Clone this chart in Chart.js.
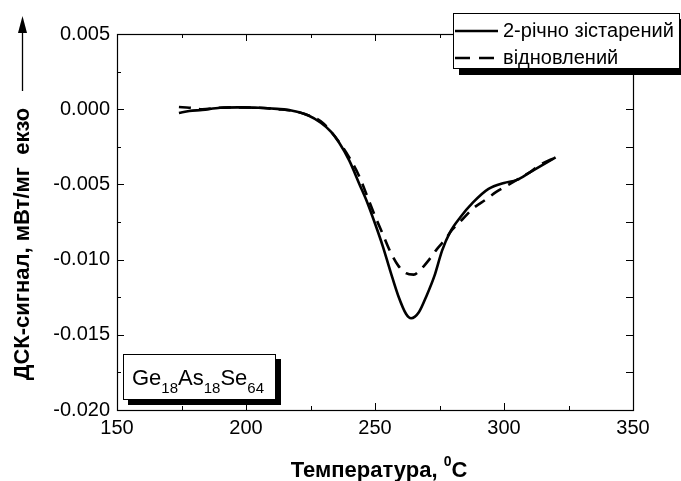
<!DOCTYPE html>
<html><head><meta charset="utf-8">
<script src="https://cdn.jsdelivr.net/npm/chart.js@4.4.1/dist/chart.umd.min.js"></script>
<style>html,body{margin:0;padding:0;background:#fff;}canvas{display:block;}</style>
</head><body>
<canvas id="c" width="681" height="481"></canvas>
<script>
// ---- data ----
const tempAged = [174,178,183,190,197,205,212,218,224,229,233,236,240,244,247,250,253,256,259,262,264,267,270,273,276,279,283,288,294,300,305,310,315,320];
const dscAged  = [-0.00025,-0.00012,-0.00005,0.0001,0.00012,0.0001,0.00002,-0.0001,-0.0004,-0.0009,-0.0015,-0.0022,-0.0034,-0.0050,-0.0062,-0.0076,-0.0091,-0.0108,-0.0124,-0.0136,-0.0139,-0.0135,-0.0124,-0.0111,-0.0094,-0.0082,-0.0072,-0.0062,-0.0053,-0.0049,-0.0047,-0.0042,-0.0037,-0.0032];
const tempRestored = [174,178,183,190,197,205,212,218,224,229,233,237,240,244,247,250,253,256,259,262,265,268,271,274,277,280,284,288,293,297,302,306,310,314,320];
const dscRestored  = [0.00015,0.0001,0.0,0.0001,0.00012,0.0001,0.0,-0.0001,-0.0004,-0.0008,-0.0015,-0.0024,-0.0032,-0.0045,-0.0058,-0.0071,-0.0083,-0.0095,-0.0104,-0.0109,-0.0110,-0.0106,-0.0100,-0.0093,-0.0087,-0.0080,-0.0073,-0.0066,-0.0060,-0.0055,-0.0050,-0.0046,-0.0042,-0.0037,-0.0032];
const seriesNames = ['2-річно зістарений','відновлений'];
const xTicks = [150,200,250,300,350];
const yTicks = [0.005,0.000,-0.005,-0.010,-0.015,-0.020];
const xTitle = ['Температура, ','0','C'];
const yTitle = 'ДСК-сигнал, мВт/мг  екзо';
const sampleParts = [['Ge','18'],['As','18'],['Se','64']];

const FONT = "Arial, 'Liberation Sans', sans-serif";

const decor = {
  id: 'decor',
  afterDraw(chart) {
    const ctx = chart.ctx, xs = chart.scales.x, ys = chart.scales.y, a = chart.chartArea;
    ctx.save();
    ctx.strokeStyle = '#000'; ctx.fillStyle = '#000'; ctx.lineWidth = 1.2;
    // frame
    ctx.strokeRect(a.left + 0.5, a.top + 0.5, a.right - a.left, a.bottom - a.top);
    // inward ticks
    ctx.lineWidth = 1;
    ctx.beginPath();
    for (let i = 0; i < xTicks.length; i++) {
      const v = xTicks[i];
      const px = Math.round(xs.getPixelForValue(v)) + 0.5;
      ctx.moveTo(px, a.bottom); ctx.lineTo(px, a.bottom - 7);
      ctx.moveTo(px, a.top); ctx.lineTo(px, a.top + 7);
      if (i < xTicks.length - 1) {
        const m = Math.round(xs.getPixelForValue((v + xTicks[i + 1]) / 2)) + 0.5;
        ctx.moveTo(m, a.bottom); ctx.lineTo(m, a.bottom - 4);
        ctx.moveTo(m, a.top); ctx.lineTo(m, a.top + 4);
      }
    }
    for (let i = 0; i < yTicks.length; i++) {
      const v = yTicks[i];
      const py = Math.round(ys.getPixelForValue(v)) + 0.5;
      ctx.moveTo(a.left, py); ctx.lineTo(a.left + 7, py);
      ctx.moveTo(a.right, py); ctx.lineTo(a.right - 7, py);
      if (i < yTicks.length - 1) {
        const m = Math.round(ys.getPixelForValue((v + yTicks[i + 1]) / 2)) + 0.5;
        ctx.moveTo(a.left, m); ctx.lineTo(a.left + 4, m);
        ctx.moveTo(a.right, m); ctx.lineTo(a.right - 7, m);
      }
    }
    ctx.stroke();

    // x title with superscript
    ctx.textBaseline = 'alphabetic';
    ctx.textAlign = 'left';
    const fb = 'bold 22px ' + FONT, fs = 'bold 14px ' + FONT;
    ctx.font = fb; const w1 = ctx.measureText(xTitle[0]).width, w3 = ctx.measureText(xTitle[2]).width;
    ctx.font = fs; const w2 = ctx.measureText(xTitle[1]).width;
    let sx = (a.left + a.right) / 2 + 4 - (w1 + w2 + w3) / 2;
    ctx.font = fb; ctx.fillText(xTitle[0], sx, 477);
    ctx.font = fs; ctx.fillText(xTitle[1], sx + w1, 466);
    ctx.font = fb; ctx.fillText(xTitle[2], sx + w1 + w2, 477);

    // y title
    ctx.save();
    ctx.translate(23, 244);
    ctx.rotate(-Math.PI / 2);
    ctx.textAlign = 'center'; ctx.textBaseline = 'middle';
    ctx.font = 'bold 22px ' + FONT;
    ctx.fillText(yTitle, 0, 0);
    ctx.restore();
    // arrow
    ctx.lineWidth = 1.3;
    ctx.beginPath(); ctx.moveTo(22.5, 91); ctx.lineTo(22.5, 30); ctx.stroke();
    ctx.beginPath(); ctx.moveTo(22.5, 16); ctx.lineTo(27, 33); ctx.lineTo(18, 33); ctx.closePath(); ctx.fill();

    // legend box
    ctx.fillStyle = '#000'; ctx.fillRect(459, 19, 227, 56);
    ctx.fillStyle = '#fff'; ctx.fillRect(453, 13, 227, 56);
    ctx.strokeStyle = '#000'; ctx.lineWidth = 1; ctx.strokeRect(453.5, 13.5, 226, 55);
    ctx.lineWidth = 2.6;
    ctx.beginPath(); ctx.moveTo(455, 31); ctx.lineTo(498, 31); ctx.stroke();
    ctx.setLineDash([15, 9]);
    ctx.beginPath(); ctx.moveTo(455, 58); ctx.lineTo(498, 58); ctx.stroke();
    ctx.setLineDash([]);
    ctx.fillStyle = '#000'; ctx.font = '20px ' + FONT; ctx.textAlign = 'left'; ctx.textBaseline = 'alphabetic';
    ctx.fillText(seriesNames[0], 503, 37);
    ctx.fillText(seriesNames[1], 503, 64);

    // sample box
    ctx.fillStyle = '#000'; ctx.fillRect(128, 359, 153, 46);
    ctx.fillStyle = '#fff'; ctx.fillRect(123, 354, 153, 46);
    ctx.lineWidth = 1; ctx.strokeRect(123.5, 354.5, 152, 45);
    ctx.fillStyle = '#000';
    let tx = 132;
    for (const [el, n] of sampleParts) {
      ctx.font = '22px ' + FONT; ctx.fillText(el, tx, 385); tx += ctx.measureText(el).width;
      ctx.font = '15px ' + FONT; ctx.fillText(n, tx, 393); tx += ctx.measureText(n).width;
    }
    ctx.restore();
  }
};

new Chart(document.getElementById('c'), {
  type: 'line',
  data: {
    datasets: [
      { label: seriesNames[0], data: tempAged.map((t, i) => ({ x: t, y: dscAged[i] })),
        borderColor: '#000', borderWidth: 2.6, pointRadius: 0, fill: false, cubicInterpolationMode: 'monotone' },
      { label: seriesNames[1], data: tempRestored.map((t, i) => ({ x: t, y: dscRestored[i] })),
        borderColor: '#000', borderWidth: 2.6, borderDash: [12, 8], pointRadius: 0, fill: false, cubicInterpolationMode: 'monotone' }
    ]
  },
  options: {
    responsive: false, animation: false, devicePixelRatio: 1,
    layout: { padding: { left: 0, top: 34, right: 48, bottom: 0 } },
    plugins: { legend: { display: false }, tooltip: { enabled: false } },
    scales: {
      x: { type: 'linear', min: 150, max: 350,
        afterBuildTicks: s => { s.ticks = xTicks.map(v => ({ value: v })); },
        ticks: { font: { size: 20, family: FONT }, color: '#000', padding: 6, maxRotation: 0, callback: v => String(v) },
        grid: { display: false, drawTicks: false }, border: { display: false },
        afterFit: s => { s.height = 71; } },
      y: { type: 'linear', min: -0.02, max: 0.005,
        afterBuildTicks: s => { s.ticks = yTicks.map(v => ({ value: v })); },
        ticks: { font: { size: 20, family: FONT }, color: '#000', padding: 7, callback: v => Number(v).toFixed(3).replace('-0.000','0.000') },
        grid: { display: false, drawTicks: false }, border: { display: false },
        afterFit: s => { s.width = 117; } }
    }
  },
  plugins: [decor]
});
</script>
</body></html>
